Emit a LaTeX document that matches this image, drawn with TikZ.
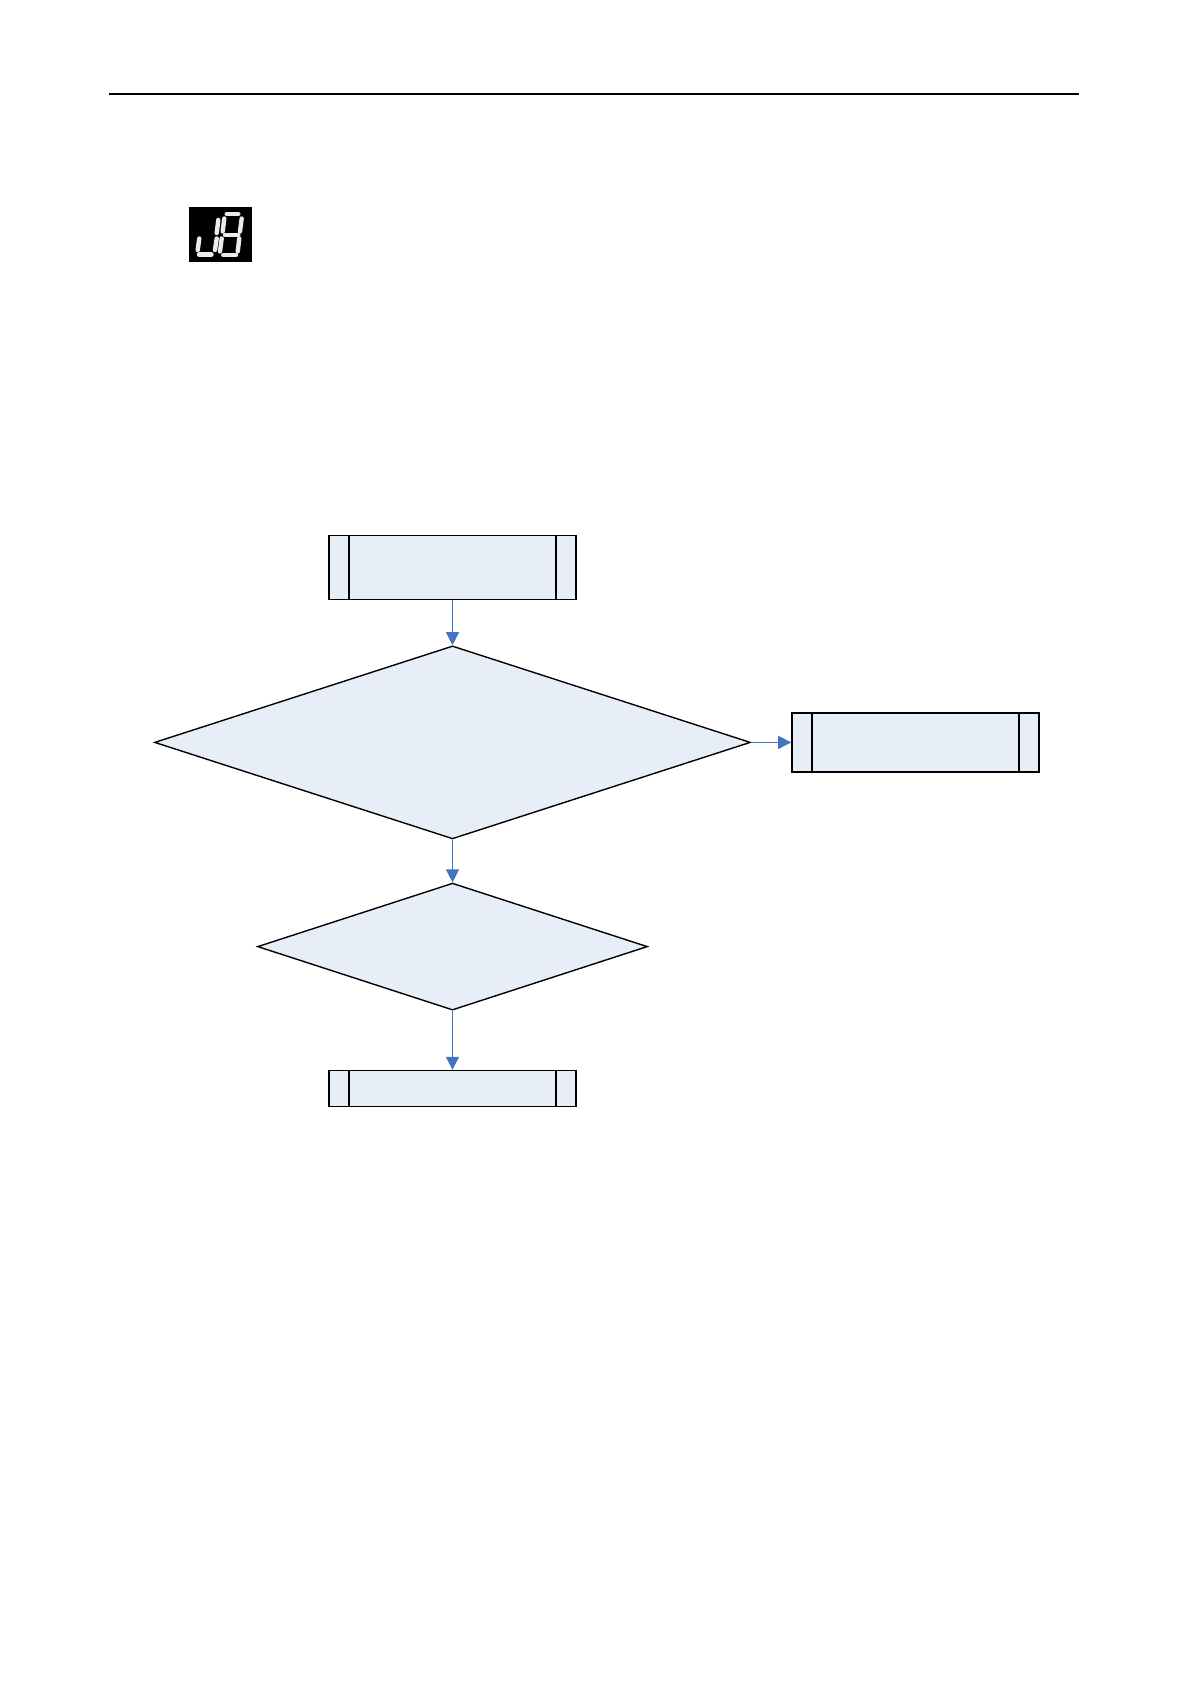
\documentclass[tikz,border=0pt]{standalone}
\usepackage{tikz}
\usetikzlibrary{arrows.meta,positioning,shapes.geometric}

\definecolor{flowfill}{RGB}{232,238,248}
\definecolor{flowblue}{RGB}{68,114,196}
\definecolor{segwhite}{RGB}{235,235,235}

\begin{document}
\begin{tikzpicture}[
  x=0.5pt, y=-0.5pt,
  proc/.style={draw, line width=0.7pt, fill=flowfill, minimum width=123.5pt, inner sep=0pt,
    path picture={
      \draw[line width=0.7pt] ([xshift=10pt]path picture bounding box.north west) -- ([xshift=10pt]path picture bounding box.south west);
      \draw[line width=0.7pt] ([xshift=-10pt]path picture bounding box.north east) -- ([xshift=-10pt]path picture bounding box.south east);
    }},
  decision/.style={diamond, draw, line width=0.7pt, fill=flowfill, inner sep=0pt},
  arr/.style={-{Triangle[width=6.5pt,length=6.5pt]}, flowblue, line width=0.6pt},
  seg/.style={segwhite, line width=2.2pt, line cap=round}
]
\useasboundingbox (0,0) rectangle (1191,1684);

% header rule
\draw[line width=0.7pt] (109,94) -- (1079,94);

% display code
\node[fill=black, minimum width=31.5pt, minimum height=27.5pt, inner sep=0pt] (code) at (220.5,234.5) {};
\foreach \a/\b/\c/\d in {218.3/220/216.7/233, 216.7/238.5/215/250, 199.3/238.5/197.7/250, 199/254.5/211.5/254.5,
    226.7/214/238.3/214, 224.3/218.5/222.7/231.5, 241.7/218.5/240/231.5, 225/235/238.3/235,
    221.7/238.5/220/251.5, 239.3/238.5/237.7/251.5, 223.3/255/236/255}
  \draw[seg] (\a,\b) -- (\c,\d);

% flow
\node[proc, minimum height=32pt] (start) at (452.5,567.5) {};
\node[decision, minimum width=298pt, minimum height=96.5pt, below=22.5pt of start] (check) {};
\node[proc, minimum height=29.5pt, right=20pt of check] (alarm) {};
\node[decision, minimum width=195pt, minimum height=63.5pt, below=21.4pt of check] (recheck) {};
\node[proc, minimum height=18pt, below=29.5pt of recheck] (finish) {};

\draw[arr] (start) -- (check);
\draw[arr] (check) -- (alarm);
\draw[arr] (check) -- (recheck);
\draw[arr] (recheck) -- (finish);

\end{tikzpicture}
\end{document}
